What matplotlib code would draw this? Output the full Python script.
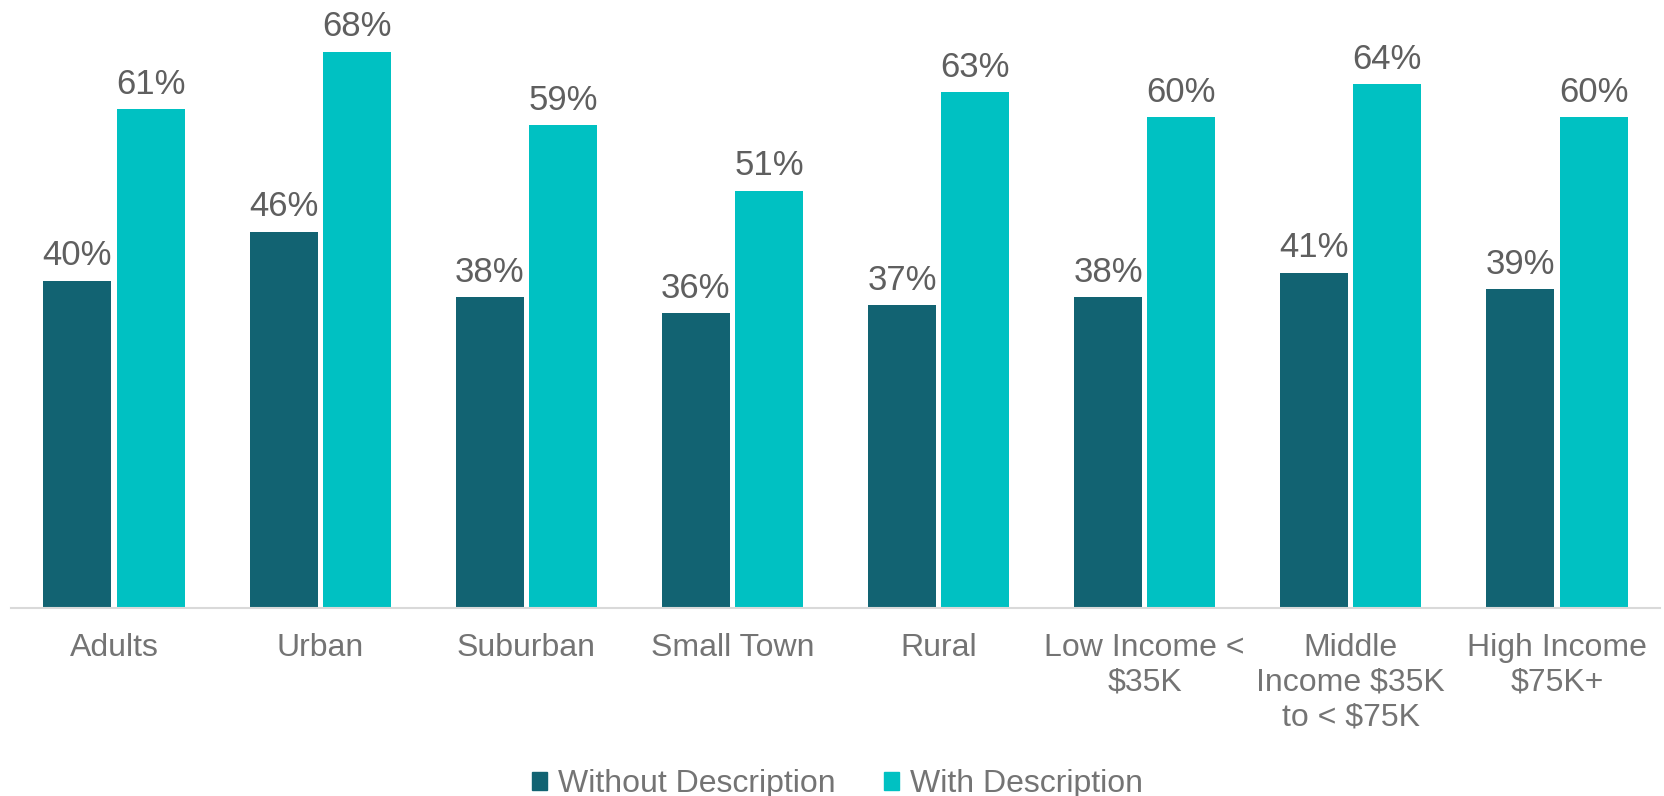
import numpy as np
import matplotlib.pyplot as plt
from matplotlib.patches import Patch

categories = ["Adults", "Urban", "Suburban", "Small Town", "Rural",
              "Low Income <\n$35K", "Middle\nIncome $35K\nto < $75K", "High Income\n$75K+"]
without_desc = [40, 46, 38, 36, 37, 38, 41, 39]
with_desc = [61, 68, 59, 51, 63, 60, 64, 60]

dark = "#126372"
light = "#00C1C2"
val_grey = "#5f5f5f"
grey = "#747474"

plt.rcParams['font.family'] = ['Liberation Sans', 'DejaVu Sans']

fig = plt.figure(figsize=(16.65, 7.96), dpi=100)
ax = fig.add_axes([0.0066, 0.236, 0.9904, 0.764])

x = np.arange(len(categories))
w = 0.33
off = 0.1775
b1 = ax.bar(x - off, without_desc, w, color=dark)
b2 = ax.bar(x + off, with_desc, w, color=light)

for bars, vals in [(b1, without_desc), (b2, with_desc)]:
    for b, v in zip(bars, vals):
        ax.annotate(f"{v}%", (b.get_x() + b.get_width() / 2, v),
                    xytext=(0, 6), textcoords='offset points',
                    ha='center', va='bottom', fontsize=25, color=val_grey)

ax.set_xlim(-0.5, len(categories) - 0.5)
ax.set_ylim(0, 74.3)
ax.set_yticks([])
ax.set_xticks(x)
ax.set_xticklabels(categories, fontsize=23, color=grey, linespacing=1.2)
ax.tick_params(axis='x', length=0, pad=18)
for s in ['top', 'right', 'left']:
    ax.spines[s].set_visible(False)
ax.spines['bottom'].set_color('#D9D9D9')
ax.spines['bottom'].set_linewidth(1.5)

handles = [Patch(color=dark, label="Without Description"),
           Patch(color=light, label="With Description")]
fig.legend(handles=handles, loc='lower center', bbox_to_anchor=(0.503, -0.04),
           ncol=2, frameon=False, fontsize=23, labelcolor=grey,
           handlelength=0.47, handleheight=0.47, handletextpad=0.35, columnspacing=1.5)

fig.savefig("out.png", dpi=100)
